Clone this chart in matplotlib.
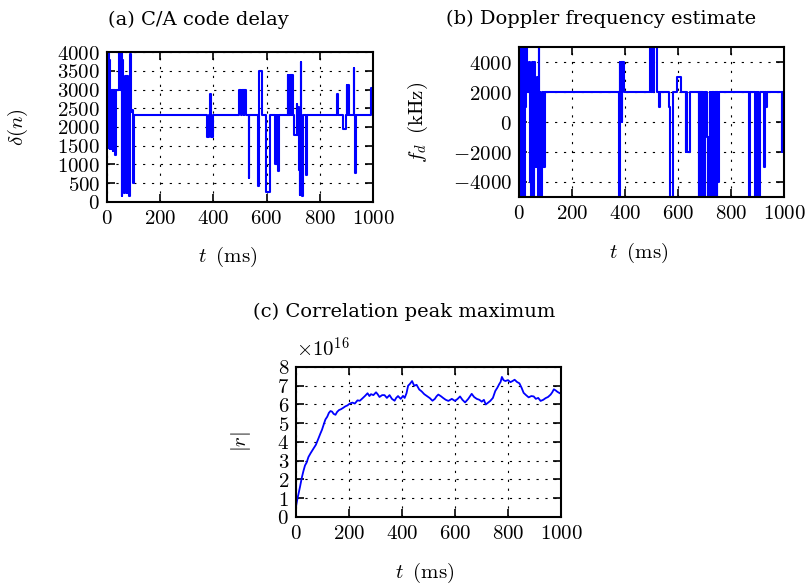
import numpy as np
import matplotlib.pyplot as plt
from matplotlib.ticker import FuncFormatter, MultipleLocator

plt.rcParams['mathtext.fontset'] = 'cm'
plt.rcParams['font.family'] = 'DejaVu Serif'

# (a) C/A code delay -- step breakpoints (ms, samples)
delay_t = [0, 2, 4, 6, 8, 10, 12, 15, 17, 21, 23, 31, 33, 47, 50, 52, 55, 57, 60,
           62, 65, 68, 71, 73, 75, 77, 79, 81, 83, 86, 88, 91, 95, 99, 101,
           377, 382, 389, 391, 398,
           495, 505, 509, 514, 515, 524, 533, 535, 569, 571, 584, 599, 613,
           632, 634, 636, 638, 640, 642, 644, 646,
           680, 682, 684, 686, 688, 690, 692, 694, 696, 699,
           705, 714, 716, 720, 723, 725, 727, 729, 731, 733, 735, 737, 749, 752,
           865, 867, 889, 898, 901, 903, 905, 909, 928, 930, 934, 936, 991, 1000]
delay_v = [4000, 1500, 4000, 1450, 3800, 1400, 3000, 1400, 3000, 1350, 3000, 1250, 3000,
           4000, 3000, 4000, 150, 3800, 2400,
           3300, 250, 3350, 1700, 3350, 250, 3350, 1300, 1700, 150, 2400, 3950, 2400, 2450, 500, 2330,
           1730, 2330, 2890, 1730, 2330,
           3000, 2330, 3000, 2330, 3000, 2330, 650, 2330, 420, 3490, 2330, 270, 2330,
           1020, 2330, 1020, 2330, 1020, 2330, 830, 2330,
           3380, 2330, 3380, 2330, 3380, 2330, 3380, 2330, 3380, 2330,
           1780, 2620, 1780, 2530, 850, 180, 1780, 3730, 200, 900, 150, 2330, 710, 2330,
           2870, 2330, 1950, 2330, 3130, 2330, 3130, 2330, 3570, 2330, 760, 2330, 3040, 3040]

# (b) Doppler frequency estimate -- step breakpoints (ms, kHz)
dopp_t = [0, 2, 4, 6, 8, 10, 12, 14, 16, 19, 21, 24, 27, 31, 36, 40, 44, 46, 49, 52,
          54, 56, 58, 60, 62, 64, 66, 68, 70, 72, 74, 76, 78, 80, 83, 85, 88, 90, 93, 96, 98,
          378, 380, 383, 385, 388, 390, 396,
          495, 500, 502, 507, 509, 521, 530, 533, 566, 570, 582, 598, 613,
          630, 632, 634, 646,
          678, 680, 682, 684, 686, 688, 690, 692, 694, 697, 699, 701,
          708, 712, 714, 718, 720, 722, 724, 726, 728, 730, 736, 738, 747, 749, 751, 753,
          868, 870, 891, 893, 895, 897, 899, 901, 903, 905, 907, 909,
          926, 928, 932, 937, 991, 993, 995, 1000]
dopp_v = [5000, -5000, 5000, -2000, 5000, -5000, 5000, -4000, 5000, -5000, 5000, 1000, 5000,
          2000, 4000, -4000, 2000, -5000, 4000, -3000,
          3000, -5000, 4000, -3000, 3000, -3000, 2000, -3000, 3000, -5000, 5000, -3000,
          2000, -3000, -5000, -3000, 2000, -3000, 2000, -3000, 2000,
          -5000, 4000, 2000, 4000, 0, 4000, 2000,
          5000, 2000, 5000, 2000, 5000, 2000, 1000, 2000, 1000, -5000, 2000, 3000, 2000,
          -2000, 2000, -2000, 2000,
          -5000, 2000, -5000, 2000, -5000, 2000, -5000, 2000, -5000, 2000, -5000, 2000,
          -1000, -5000, -1000, -5000, 2000, -4000, 2000, -5000, -4000, 2000, -5000, 2000,
          -5000, 2000, -4000, 2000,
          -5000, 2000, -5000, 2000, -4000, 2000, -5000, 2000, -5000, -4000, -5000, 2000,
          -3000, 2000, 1000, 2000, -2000, 2000, -2000, -2000]

# (c) Correlation peak maximum (units of 1e16)
corr_t = [0, 5, 9, 15, 22, 28, 34, 40, 47, 55, 66, 75, 85, 92, 98, 105, 111, 118, 124,
          130, 136, 142, 149, 155, 162, 170, 178, 186, 194, 203, 213, 222, 232, 241, 251,
          260, 270, 277, 283, 292, 302, 308, 315, 325, 334, 343, 353, 362, 372, 378, 385,
          395, 404, 410, 417, 423, 430, 438, 446, 455, 465, 474, 484, 493, 505, 515, 524,
          530, 537, 546, 556, 565, 575, 588, 600, 610, 619, 628, 638, 650, 663, 672, 682,
          692, 701, 709, 716, 725, 733, 743, 752, 760, 767, 772, 777, 783, 790, 800, 809,
          817, 825, 834, 843, 851, 859, 868, 878, 888, 897, 905, 914, 923, 933, 942, 951,
          961, 967, 973, 980, 986, 993, 1000]
corr_v = [0.55, 0.95, 1.2, 1.6, 2.1, 2.45, 2.75, 2.9, 3.2, 3.4, 3.65, 3.85, 4.2, 4.45, 4.65,
          4.95, 5.2, 5.35, 5.55, 5.65, 5.62, 5.5, 5.45, 5.6, 5.7, 5.75, 5.82, 5.9, 5.95,
          6.05, 6.1, 6.05, 6.22, 6.2, 6.33, 6.45, 6.6, 6.45, 6.55, 6.5, 6.65, 6.55, 6.4,
          6.5, 6.5, 6.35, 6.5, 6.3, 6.2, 6.35, 6.45, 6.3, 6.46, 6.35, 6.6, 7.0, 7.1, 7.25,
          7.0, 7.05, 6.8, 6.7, 6.55, 6.46, 6.34, 6.2, 6.3, 6.43, 6.53, 6.45, 6.34, 6.25,
          6.19, 6.3, 6.19, 6.3, 6.43, 6.25, 6.11, 6.3, 6.57, 6.4, 6.3, 6.25, 6.15, 6.25,
          6.0, 6.1, 6.19, 6.35, 6.72, 6.9, 7.09, 7.2, 7.47, 7.3, 7.25, 7.3, 7.19, 7.25,
          7.32, 7.2, 7.13, 6.9, 6.62, 6.5, 6.38, 6.45, 6.43, 6.3, 6.35, 6.19, 6.25, 6.34,
          6.4, 6.53, 6.65, 6.81, 6.75, 6.68, 6.62, 6.57]

blue = '#0000ff'
fs = 15


def style_axes(ax, ylo, yhi, ystep, fmt):
    ax.set_xlim(0, 1000)
    ax.set_ylim(ylo, yhi)
    ax.xaxis.set_major_locator(MultipleLocator(200))
    ax.yaxis.set_major_locator(MultipleLocator(ystep))
    ax.xaxis.set_major_formatter(FuncFormatter(lambda v, p: r'$\mathrm{%d}$' % v))
    ax.yaxis.set_major_formatter(FuncFormatter(fmt))
    ax.tick_params(direction='in', top=True, right=True, length=6, width=1.2,
                   labelsize=fs, pad=5)
    ax.grid(True, color='k', linestyle=(0, (2, 6)), linewidth=0.8)
    for s in ax.spines.values():
        s.set_linewidth(1.5)


fig = plt.figure(figsize=(8.05, 5.87), dpi=100)

ax1 = fig.add_axes([0.1329, 0.6559, 0.3304, 0.2555])
ax1.plot(delay_t, delay_v, color=blue, lw=1.5, drawstyle='steps-post')
style_axes(ax1, 0, 4000, 500, lambda v, p: r'$\mathrm{%d}$' % v)
ax1.set_xlabel(r'$t\;\;(\mathrm{ms})$', fontsize=fs, va='center')
ax1.set_ylabel(r'$\delta(n)$', fontsize=fs, va='center')
ax1.xaxis.set_label_coords(0.455, -0.367)
ax1.yaxis.set_label_coords(-0.335, 0.5)

ax2 = fig.add_axes([0.6447, 0.6644, 0.3292, 0.2555])
ax2.plot(dopp_t, dopp_v, color=blue, lw=1.5, drawstyle='steps-post')
style_axes(ax2, -5000, 5000, 2000, lambda v, p: r'$%d$' % v)
ax2.set_xlabel(r'$t\;\;(\mathrm{ms})$', fontsize=fs, va='center')
ax2.set_ylabel(r'$f_d\;\;(\mathrm{kHz})$', fontsize=fs, va='center')
ax2.xaxis.set_label_coords(0.451, -0.373)
ax2.yaxis.set_label_coords(-0.381, 0.5)

ax3 = fig.add_axes([0.3677, 0.1193, 0.3292, 0.2555])
ax3.plot(corr_t, np.array(corr_v) * 1e16, color=blue, lw=1.3)
style_axes(ax3, 0, 8e16, 1e16, lambda v, p: r'$\mathrm{%d}$' % round(v / 1e16))
ax3.text(0.0, 1.065, r'$\times10^{16}$', transform=ax3.transAxes, fontsize=fs,
         ha='left', va='baseline')
ax3.set_xlabel(r'$t\;\;(\mathrm{ms})$', fontsize=fs, va='center')
ax3.set_ylabel(r'$|r|$', fontsize=fs, va='center')
ax3.xaxis.set_label_coords(0.487, -0.373)
ax3.yaxis.set_label_coords(-0.208, 0.5)

fig.text(198 / 805, 1 - 20 / 587, '(a) C/A code delay', ha='center', va='center', fontsize=14)
fig.text(601 / 805, 1 - 19 / 587, '(b) Doppler frequency estimate', ha='center', va='center', fontsize=14)
fig.text(404 / 805, 1 - 312 / 587, '(c) Correlation peak maximum', ha='center', va='center', fontsize=14)

fig.savefig('out.png', dpi=100)
